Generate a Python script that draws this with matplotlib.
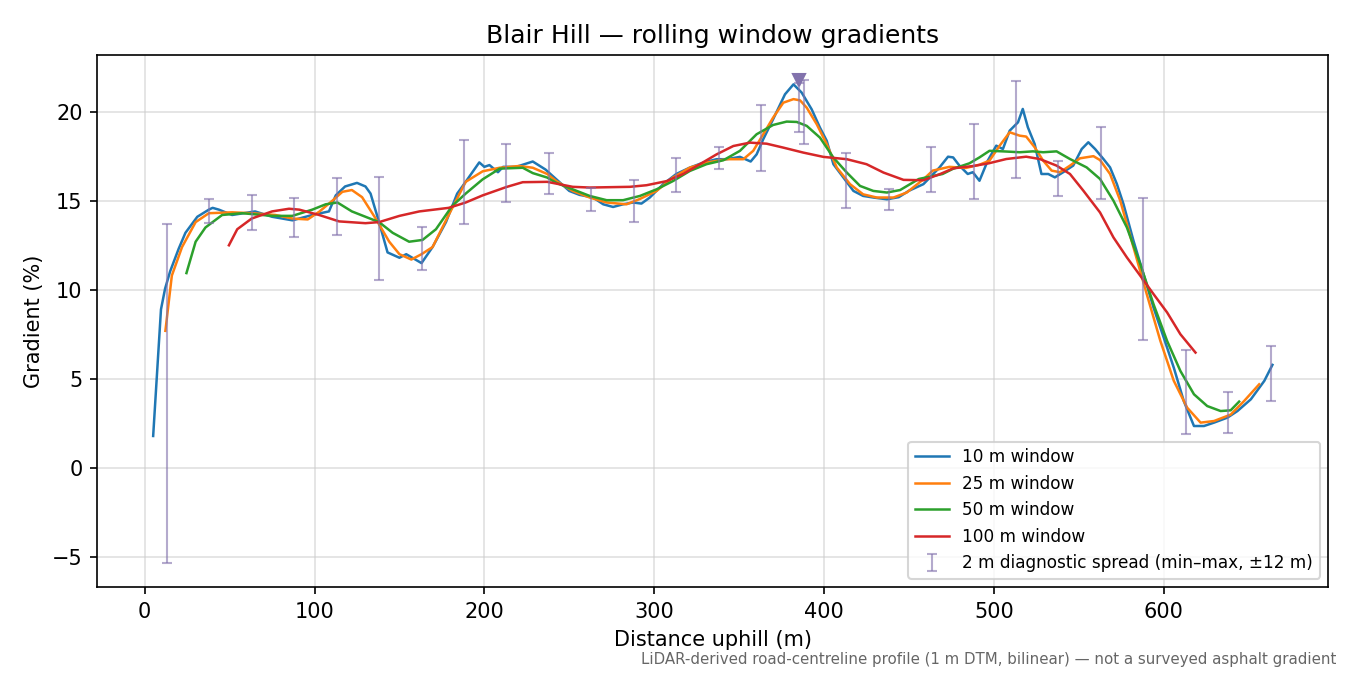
import matplotlib
matplotlib.use("Agg")
import matplotlib.pyplot as plt

# 10 m window
x10 = [5, 9.6, 12, 15, 20, 24, 31, 37.8, 40, 43.7, 51.5, 65, 75, 87, 98.7, 108.5, 112.5, 118, 125, 130,
       133, 138, 143, 150, 154, 163, 169.5, 177.4, 184, 189, 197, 200, 203, 208, 211, 218.7, 228.5, 236,
       242.4, 250, 256, 264, 270, 275.8, 281.7, 287.6, 292.5, 297.4, 305.3, 313, 321, 328.9, 336.7, 342.6,
       350.5, 356.8, 360.3, 364.2, 370, 377, 382, 386.8, 392.7, 397.6, 401.6, 405.5, 411.4, 417.3, 423,
       429, 437, 444, 450, 458.5, 462, 468, 473, 476, 479.7, 484.6, 487.6, 491.5, 496.4, 501.4, 505.3,
       509.3, 514.2, 517, 520, 524, 528, 532, 535.9, 540.8, 546.7, 551.7, 555.6, 559.6, 564.5, 568.4,
       572.4, 576.3, 582.2, 588.1, 594, 600, 605.9, 611.8, 617.8, 623.7, 629.6, 637.5, 643.4, 651.3,
       659.2, 664]
g10 = [1.8, 8.9, 10.06, 11.04, 12.3, 13.2, 14.1, 14.5, 14.6, 14.5, 14.2, 14.4, 14.1, 13.9, 14.2, 14.4,
       15.3, 15.8, 16.0, 15.8, 15.4, 13.8, 12.1, 11.8, 12.0, 11.5, 12.4, 13.8, 15.4, 16.06, 17.15, 16.9,
       17.0, 16.6, 16.9, 16.9, 17.2, 16.75, 16.2, 15.55, 15.33, 15.18, 14.8, 14.65, 14.8, 14.9, 14.84,
       15.18, 15.93, 16.5, 16.86, 17.14, 17.33, 17.33, 17.46, 17.2, 17.6, 18.45, 19.57, 20.97, 21.53,
       21.07, 20.13, 19.1, 18.36, 17.05, 16.3, 15.55, 15.27, 15.18, 15.08, 15.2, 15.56, 15.93, 16.27,
       16.87, 17.47, 17.43, 16.97, 16.5, 16.6, 16.12, 17.25, 18.09, 17.9, 18.93, 19.4, 20.15, 19.12,
       18.18, 16.5, 16.5, 16.31, 16.6, 16.97, 17.9, 18.28, 17.9, 17.34, 16.87, 15.94, 14.81, 12.75,
       10.88, 9.0, 7.32, 5.64, 3.76, 2.36, 2.36, 2.55, 2.83, 3.2, 3.86, 4.89, 5.79]

# 25 m window
x25 = [12.2, 16, 22, 30, 37.8, 51.5, 63, 77, 87, 96, 103, 110.5, 116.4, 122, 128, 136, 144, 150, 157,
       163, 169.5, 179, 189, 199, 209, 220.6, 228.5, 237, 242.4, 252, 262, 272, 283.7, 291.6, 301.4,
       311, 321, 330.8, 342.6, 352.5, 358.3, 364.2, 370, 376, 382, 385.9, 389.8, 395.7, 401.6, 407.5,
       415.3, 423, 431, 440.9, 448.7, 458.5, 464, 473.8, 483.6, 491.5, 497.4, 503.4, 509.3, 515.2, 519,
       524, 529, 534, 538.9, 544.8, 550.7, 558.6, 562.5, 568.4, 574.4, 582.2, 590, 598, 605.9, 613.8,
       621.7, 629.6, 639.4, 647.3, 656.2]
g25 = [7.7, 10.8, 12.4, 13.8, 14.3, 14.35, 14.3, 14.2, 14.0, 13.95, 14.4, 15.0, 15.5, 15.6, 15.2, 14.0,
       12.7, 12.0, 11.7, 12.0, 12.4, 14.2, 16.06, 16.65, 16.85, 16.95, 16.85, 16.5, 16.1, 15.55, 15.18,
       14.9, 14.8, 15.1, 15.55, 16.3, 16.86, 17.14, 17.33, 17.33, 17.8, 18.73, 19.66, 20.5, 20.7, 20.63,
       20.22, 19.29, 18.17, 16.86, 15.93, 15.36, 15.18, 15.18, 15.46, 16.2, 16.69, 16.9, 16.84, 17.02,
       17.25, 18.09, 18.84, 18.65, 18.6, 18.0, 17.25, 16.69, 16.6, 16.97, 17.38, 17.5, 17.28, 16.5,
       15.0, 12.38, 9.76, 7.14, 4.9, 3.39, 2.55, 2.64, 3.0, 3.76, 4.7]

# 50 m window
x50 = [24.6, 30, 35.8, 45.6, 57.4, 75, 87, 98.7, 106.6, 113.5, 122, 130, 138, 146, 155.7, 163.6, 171.5,
       181, 189, 199, 209, 222.6, 228.5, 237, 242.4, 252, 262, 272, 281.7, 291.6, 301.4, 311, 321,
       330.8, 340.7, 350.5, 360.3, 370, 378, 383.9, 389.8, 397.6, 405.5, 413.4, 421.2, 429, 437, 444.8,
       455.8, 469.8, 475.7, 485.6, 491.5, 497.4, 505.3, 515.2, 523, 529, 536.9, 544.8, 554.6, 562.5,
       570.4, 578.3, 586.2, 594, 602, 609.8, 617.8, 625.6, 633.5, 639.4, 644.4]
g50 = [10.94, 12.7, 13.5, 14.2, 14.3, 14.15, 14.15, 14.5, 14.8, 14.9, 14.4, 14.1, 13.8, 13.2, 12.7,
       12.8, 13.4, 14.7, 15.4, 16.2, 16.8, 16.85, 16.55, 16.3, 16.0, 15.64, 15.27, 15.03, 15.03, 15.27,
       15.64, 16.1, 16.67, 17.05, 17.27, 17.8, 18.73, 19.25, 19.44, 19.42, 19.2, 18.54, 17.42, 16.58,
       15.83, 15.55, 15.46, 15.6, 16.22, 16.5, 16.78, 17.1, 17.43, 17.8, 17.77, 17.72, 17.77, 17.72,
       17.77, 17.34, 16.87, 16.22, 15.0, 13.5, 11.44, 9.19, 7.13, 5.45, 4.14, 3.48, 3.2, 3.24, 3.73]

# 100 m window
x100 = [49.6, 54.5, 63, 75, 85, 91, 102.7, 114.5, 130, 138, 150, 161.7, 179, 189, 199, 213, 222.6, 237,
        252, 262, 285.7, 295.5, 307.3, 317, 326.9, 336.7, 346.6, 356.4, 366.2, 376, 387.8, 399.6, 413.4,
        425, 435, 446.8, 458.5, 468.4, 476.2, 488, 497, 507.3, 519, 527, 536.9, 544.8, 552.7, 562.5,
        570.4, 578.3, 586.2, 594, 602, 609.8, 618.7]
g100 = [12.5, 13.4, 14.0, 14.4, 14.55, 14.5, 14.2, 13.84, 13.74, 13.8, 14.15, 14.4, 14.6, 14.9, 15.3,
        15.77, 16.04, 16.06, 15.78, 15.74, 15.78, 15.87, 16.1, 16.5, 17.05, 17.6, 18.07, 18.26, 18.2,
        17.98, 17.7, 17.46, 17.33, 17.05, 16.58, 16.17, 16.15, 16.5, 16.82, 16.95, 17.1, 17.34, 17.47,
        17.34, 16.97, 16.5, 15.56, 14.34, 12.94, 11.82, 10.79, 9.76, 8.73, 7.51, 6.48]

# 2 m diagnostic spread (min-max within +-12 m)
spread_x = [13, 38, 63, 88, 113, 138, 163, 188, 213, 238, 263, 288, 313, 338, 363, 388, 413, 438, 463,
            488, 513, 538, 563, 588, 613, 638, 663]
spread_lo = [-5.33, 13.76, 13.37, 12.97, 13.07, 10.55, 11.1, 13.7, 14.94, 15.4, 14.43, 13.78, 15.5, 16.8,
             16.64, 18.2, 14.6, 14.5, 15.5, 15.07, 16.25, 15.28, 15.07, 7.17, 1.89, 1.99, 3.76]
spread_hi = [13.7, 15.08, 15.3, 15.14, 16.26, 16.34, 13.5, 18.39, 18.2, 17.66, 15.74, 16.17, 17.42, 18.0,
             20.36, 21.78, 17.7, 15.68, 18.0, 19.33, 21.69, 17.25, 19.16, 15.13, 6.63, 4.27, 6.85]

# steepest point
peak_x = 385.5
peak_lo = 18.85
peak_hi = 21.6
peak_mark = 21.8

spread_col = "#8272ac"

fig, ax = plt.subplots(figsize=(9, 4.5), dpi=150)
fig.subplots_adjust(left=0.072, right=0.984, top=0.918, bottom=0.13)

ax.plot(x10, g10, color="tab:blue", lw=1.2, label="10 m window")
ax.plot(x25, g25, color="tab:orange", lw=1.2, label="25 m window")
ax.plot(x50, g50, color="tab:green", lw=1.2, label="50 m window")
ax.plot(x100, g100, color="tab:red", lw=1.2, label="100 m window")

mid = [(a + b) / 2 for a, b in zip(spread_lo, spread_hi)]
err = [[m - a for m, a in zip(mid, spread_lo)], [b - m for m, b in zip(mid, spread_hi)]]
ax.errorbar(spread_x, mid, yerr=err, fmt="none", ecolor=spread_col, alpha=0.6,
            elinewidth=1.0, capsize=2.5, capthick=1.0,
            label="2 m diagnostic spread (min\u2013max, \u00b112 m)")

pm = (peak_lo + peak_hi) / 2
ax.errorbar([peak_x], [pm], yerr=[[pm - peak_lo], [peak_hi - pm]], fmt="none", ecolor=spread_col,
            alpha=0.6, elinewidth=1.0, capsize=2.5, capthick=1.0)
ax.plot([peak_x], [peak_mark], marker="v", color=spread_col, ms=6, ls="none")

ax.grid(True, color="#cccccc", alpha=0.6, lw=0.8)
ax.set_title("Blair Hill \u2014 rolling window gradients", fontsize=12)
ax.set_xlabel("Distance uphill (m)")
ax.set_ylabel("Gradient (%)")
ax.legend(loc="lower right", fontsize=8.1)

fig.text(0.99, 0.012, "LiDAR-derived road-centreline profile (1 m DTM, bilinear) \u2014 not a surveyed asphalt gradient",
         ha="right", va="bottom", fontsize=7.2, color="#666666")

fig.savefig("out.png")
